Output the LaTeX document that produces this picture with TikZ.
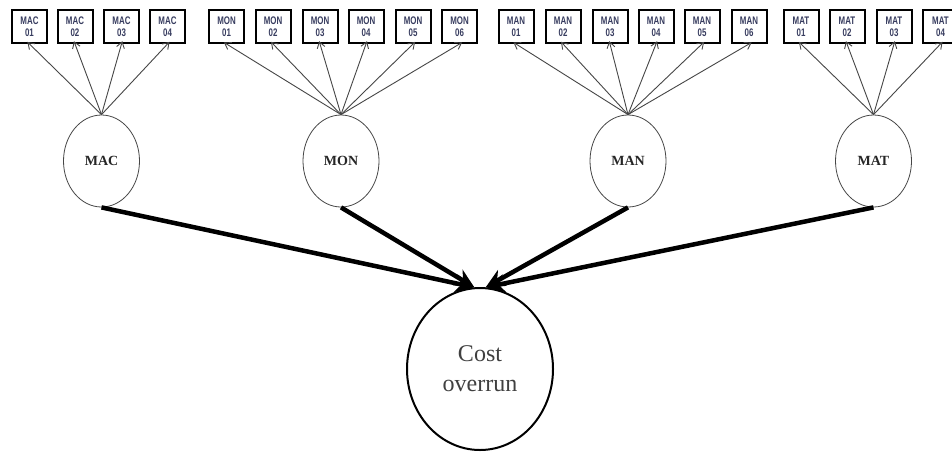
\documentclass[tikz,border=0pt]{standalone}
\usepackage{fontspec}
\setmainfont{Liberation Serif}
\setsansfont{Liberation Sans}
\usetikzlibrary{shapes.geometric,arrows.meta}
\definecolor{boxtext}{RGB}{55,60,95}
\definecolor{thinline}{RGB}{70,70,70}
\newcommand{\bxlabel}[2]{\scalebox{0.72}[1]{#1}\\\scalebox{0.72}[1]{#2}}
\begin{document}
\begin{tikzpicture}[x=1pt,y=-1pt,
  itembox/.style={draw=black,line width=2pt,rectangle,minimum width=35pt,minimum height=33pt,inner sep=0pt,
    align=center,text=boxtext,font=\sffamily\bfseries\fontsize{11}{12}\selectfont},
  latent/.style={draw=thinline,line width=0.8pt,ellipse,minimum width=76pt,minimum height=92pt,inner sep=0pt,
    font=\bfseries\fontsize{14}{15}\selectfont,text=black!85},
  outcome/.style={draw=black,line width=2pt,ellipse,minimum width=146pt,minimum height=162pt,inner sep=0pt,
    align=center,font=\fontsize{24}{30}\selectfont,text=black!75},
  thinarrow/.style={draw=thinline,line width=0.9pt,-{Straight Barb[length=6pt,width=8pt]},shorten >=-3pt},
  thickarrow/.style={draw=black,line width=4.5pt,-{Stealth[length=19pt,width=18pt,inset=6pt]}}
]
\useasboundingbox (0,0) rectangle (952,451);
\fill[white] (0,0) rectangle (952,451);

% boxes
\node[itembox] (mac1) at (29.5,26.5) {\bxlabel{MAC}{01}};
\node[itembox] (mac2) at (75,26.5) {\bxlabel{MAC}{02}};
\node[itembox] (mac3) at (121.5,26.5) {\bxlabel{MAC}{03}};
\node[itembox] (mac4) at (167.5,26.5) {\bxlabel{MAC}{04}};

\node[itembox] (mon1) at (226.5,26.5) {\bxlabel{MON}{01}};
\node[itembox] (mon2) at (273,26.5) {\bxlabel{MON}{02}};
\node[itembox] (mon3) at (320,26.5) {\bxlabel{MON}{03}};
\node[itembox] (mon4) at (366,26.5) {\bxlabel{MON}{04}};
\node[itembox] (mon5) at (413,26.5) {\bxlabel{MON}{05}};
\node[itembox] (mon6) at (459.5,26.5) {\bxlabel{MON}{06}};

\node[itembox] (man1) at (516,26.5) {\bxlabel{MAN}{01}};
\node[itembox] (man2) at (563,26.5) {\bxlabel{MAN}{02}};
\node[itembox] (man3) at (610,26.5) {\bxlabel{MAN}{03}};
\node[itembox] (man4) at (656,26.5) {\bxlabel{MAN}{04}};
\node[itembox] (man5) at (702,26.5) {\bxlabel{MAN}{05}};
\node[itembox] (man6) at (749,26.5) {\bxlabel{MAN}{06}};

\node[itembox] (mat1) at (801,26.5) {\bxlabel{MAT}{01}};
\node[itembox] (mat2) at (847,26.5) {\bxlabel{MAT}{02}};
\node[itembox] (mat3) at (894,26.5) {\bxlabel{MAT}{03}};
\node[itembox] (mat4) at (940.5,26.5) {\bxlabel{MAT}{04}};

% latent ellipses
\node[latent] (mac) at (101.5,161) {MAC};
\node[latent] (mon) at (341,161) {MON};
\node[latent] (man) at (628,161) {MAN};
\node[latent] (mat) at (873.5,161) {MAT};

% outcome
\node[outcome] (cost) at (480,369) {Cost\\overrun};

% thin arrows
\foreach \i in {1,...,4} \draw[thinarrow] (mac.north) -- (mac\i.south);
\foreach \i in {1,...,6} \draw[thinarrow] (mon.north) -- (mon\i.south);
\foreach \i in {1,...,6} \draw[thinarrow] (man.north) -- (man\i.south);
\foreach \i in {1,...,4} \draw[thinarrow] (mat.north) -- (mat\i.south);

% thick arrows
\coordinate (tipl) at (cost.94);
\coordinate (tipr) at (cost.86);
\draw[thickarrow] (mac.south) -- (tipl);
\draw[thickarrow] (mon.south) -- (tipl);
\draw[thickarrow] (man.south) -- (tipr);
\draw[thickarrow] (mat.south) -- (tipr);
\end{tikzpicture}
\end{document}
